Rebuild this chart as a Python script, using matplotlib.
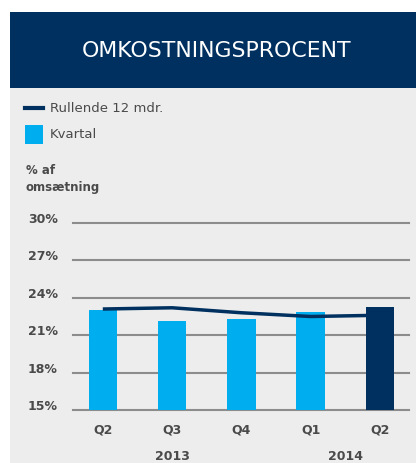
import numpy as np
import matplotlib.pyplot as plt
from matplotlib.patches import Rectangle
from matplotlib.lines import Line2D

# data
quarters = ['Q2', 'Q3', 'Q4', 'Q1', 'Q2']
years = ['2013', '2014']
kvartal = [23.0, 22.1, 22.3, 22.9, 23.3]
rullende = [23.1, 23.2, 22.8, 22.5, 22.6]
yticks = [15, 18, 21, 24, 27, 30]

navy = '#00305f'
light = '#00aeef'
panel = '#ecedec'
grid = '#8c8c8c'
txt = '#4a4a4a'

fig = plt.figure(figsize=(4.16, 4.63), dpi=100)
fig.patch.set_facecolor('white')
W, H = 416, 463

def fx(px):
    return px / W

def fy(py):
    return 1 - py / H

# background panel and header
fig.patches.append(Rectangle((fx(10), 0), 1 - fx(10), fy(88), transform=fig.transFigure,
                             facecolor=panel, edgecolor='none', zorder=-2))
fig.patches.append(Rectangle((fx(10), fy(88)), 1 - fx(10), fy(12) - fy(88), transform=fig.transFigure,
                             facecolor=navy, edgecolor='none', zorder=-2))
fig.text(fx(217), fy(51), 'OMKOSTNINGSPROCENT', color='white', fontsize=15.8,
         ha='center', va='center', family='DejaVu Sans')

# legend
fig.lines.append(Line2D([fx(25), fx(43)], [fy(108), fy(108)], transform=fig.transFigure,
                        color=navy, linewidth=3))
fig.text(fx(50), fy(108), 'Rullende 12 mdr.', color=txt, fontsize=9.5, va='center')
fig.patches.append(Rectangle((fx(25), fy(144)), fx(18), fy(125) - fy(144), transform=fig.transFigure,
                             facecolor=light, edgecolor='none'))
fig.text(fx(50), fy(135), 'Kvartal', color=txt, fontsize=9.5, va='center')

fig.text(fx(26), fy(170), '% af', color=txt, fontsize=8.5, fontweight='bold', va='center')
fig.text(fx(26), fy(188), 'omsætning', color=txt, fontsize=8.5, fontweight='bold', va='center')

# chart
ax = fig.add_axes([fx(73), fy(410), fx(409) - fx(73), fy(223) - fy(410)])
ax.set_facecolor('none')
x = np.arange(len(quarters))
ax.set_xlim(-0.43, len(quarters) - 1 + 0.42)
ax.set_ylim(yticks[0], yticks[-1])

for t in yticks:
    ax.axhline(t, color=grid, linewidth=1.5, clip_on=False, zorder=1)

ax.bar(x[:-1], kvartal[:-1], width=0.41, color=light, zorder=2)
ax.plot(x, rullende, color=navy, linewidth=2.5, zorder=3, solid_capstyle='butt')
ax.bar(x[-1:], kvartal[-1:], width=0.41, color=navy, zorder=4)

for s in ax.spines.values():
    s.set_visible(False)
ax.set_yticks(yticks)
ax.set_yticklabels([f'{t}%' for t in yticks])
ax.set_xticks(x)
ax.set_xticklabels(quarters)
ax.tick_params(length=0, colors=txt, labelsize=9)
ax.tick_params(axis='y', pad=11)
ax.tick_params(axis='x', pad=10)
for lab in ax.get_xticklabels() + ax.get_yticklabels():
    lab.set_fontweight('bold')
for lab in ax.get_yticklabels():
    lab.set_verticalalignment('baseline')

# year labels under the quarter ticks
ax.text(1, -0.247, years[0], transform=ax.get_xaxis_transform(), ha='center', va='center',
        color=txt, fontsize=9, fontweight='bold')
ax.text(3.5, -0.247, years[1], transform=ax.get_xaxis_transform(), ha='center', va='center',
        color=txt, fontsize=9, fontweight='bold')

fig.savefig('out.png', dpi=100)
